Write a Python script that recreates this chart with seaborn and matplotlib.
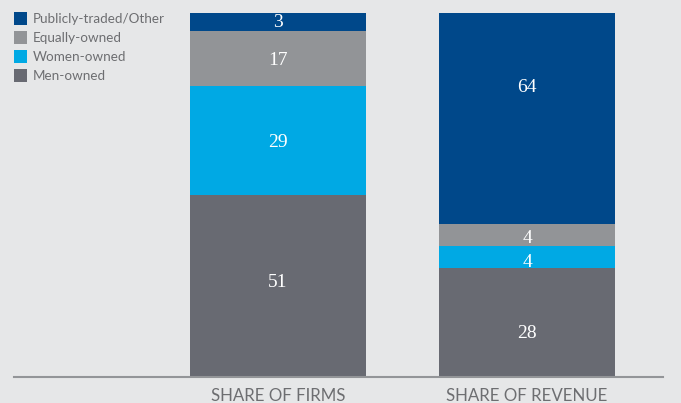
import numpy as np
import pandas as pd
import matplotlib
matplotlib.use("Agg")
import matplotlib.pyplot as plt
import seaborn as sns
from matplotlib.patches import Patch

# 数据
categories = ["SHARE OF FIRMS", "SHARE OF REVENUE"]
series = ["Men-owned", "Women-owned", "Equally-owned", "Publicly-traded/Other"]
# bar heights as drawn in the picture (percent)
men = [50, 30]
women = [30, 6]
equally = [15, 6]
public = [5, 58]
# printed labels
men_lbl = ["51", "28"]
women_lbl = ["29", "4"]
equally_lbl = ["17", "4"]
public_lbl = ["3", "64"]

# 标签基线位置（版式，不是数据）
lbl_base = [[24.8, 10.8], [63.2, 30.4], [85.7, 36.9], [96.1, 78.3]]

colors = {"Men-owned": "#686a72", "Women-owned": "#00a9e4",
          "Equally-owned": "#929497", "Publicly-traded/Other": "#00488a"}
bg = "#e6e7e8"
text_gray = "#6d6e71"

sns.set_style("white")
plt.rcParams["font.family"] = ["Lato", "DejaVu Sans"]

heights = [men, women, equally, public]
labels = [men_lbl, women_lbl, equally_lbl, public_lbl]
df = pd.DataFrame({"category": categories})
cum = np.cumsum(np.array(heights), axis=0)
for s, c in zip(series, cum):
    df[s] = c

fig = plt.figure(figsize=(6.81, 4.03), dpi=100, facecolor=bg)
ax = fig.add_axes([14 / 681, 25.7 / 403, 649 / 681, 364.3 / 403])
ax.set_facecolor(bg)

# 从顶层往下画累计值，实现堆叠
for s in reversed(series):
    sns.barplot(data=df, x="category", y=s, color=colors[s], width=0.707,
                saturation=1, linewidth=0, ax=ax)

for i in range(len(categories)):
    for lb, yb in zip(labels, lbl_base):
        ax.text(i, yb[i], lb[i], ha="center", va="baseline",
                color="white", fontsize=14, family="Liberation Serif")

ax.set_xlim(-1.06, 1.546)
ax.set_ylim(0, 100)
ax.set_ylabel("")
ax.set_xlabel("")
ax.set_yticks([])
for sp in ["top", "right", "left"]:
    ax.spines[sp].set_visible(False)
ax.spines["bottom"].set_color("#939598")
ax.spines["bottom"].set_linewidth(1.5)
ax.tick_params(axis="x", length=0, pad=8, labelsize=12.2, labelcolor=text_gray)

handles = [Patch(facecolor=colors[s], edgecolor="none") for s in reversed(series)]
leg = ax.legend(handles, list(reversed(series)), loc="upper left",
                bbox_to_anchor=(0.0, 1.0 + 1 / 364.3), frameon=False,
                fontsize=9.7, handlelength=0.95, handleheight=1.1, handletextpad=0.45,
                labelspacing=0.45, borderpad=0, borderaxespad=0)
for t in leg.get_texts():
    t.set_color(text_gray)

fig.savefig("out.png", dpi=100, facecolor=bg)
